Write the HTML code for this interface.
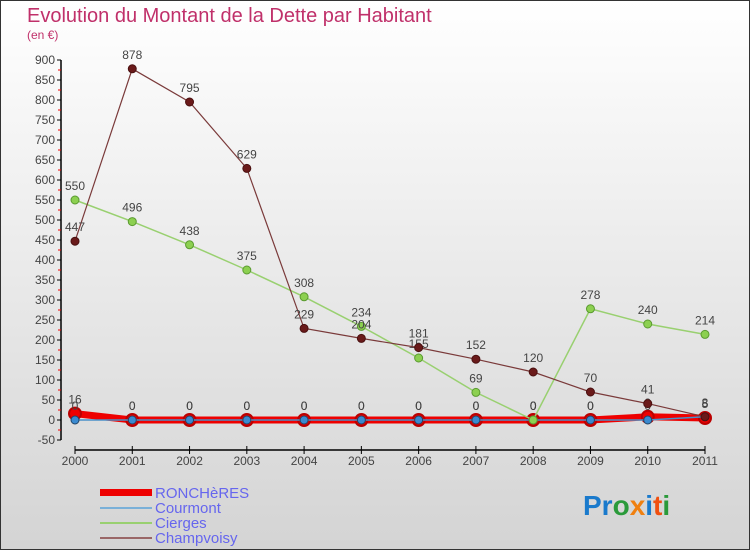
<!DOCTYPE html>
<html><head><meta charset="utf-8"><style>
body{margin:0;}
#wrap{width:750px;height:550px;position:relative;box-sizing:border-box;border:1px solid #333;background:linear-gradient(#ffffff,#d4d4d4);font-family:"Liberation Sans",sans-serif;overflow:hidden}
</style></head><body>
<div id="wrap">
<svg id="c" width="750" height="550" style="position:absolute;left:-1px;top:-1px">
<text x="27" y="22" font-size="20" fill="#c0306a">Evolution du Montant de la Dette par Habitant</text>
<text x="27" y="39" font-size="12" fill="#c0306a">(en €)</text>
<g id="axes"></g><g id="series"></g>
<g>
<rect x="100" y="489" width="52" height="7" fill="#e00"/>
<text x="155" y="498" font-size="15" fill="#6666ee">RONCHèRES</text>
<line x1="100" y1="508" x2="152" y2="508" stroke="#7ab0d8" stroke-width="2"/>
<text x="155" y="513" font-size="15" fill="#6666ee">Courmont</text>
<line x1="100" y1="523" x2="152" y2="523" stroke="#99d070" stroke-width="2"/>
<text x="155" y="528" font-size="15" fill="#6666ee">Cierges</text>
<line x1="100" y1="538" x2="152" y2="538" stroke="#996666" stroke-width="2"/>
<text x="155" y="543" font-size="15" fill="#6666ee">Champvoisy</text>
</g>
<text x="583" y="515" font-size="28" font-weight="bold"><tspan fill="#1a7acc">Pr</tspan><tspan fill="#2a9a3a">o</tspan><tspan fill="#f08010">x</tspan><tspan fill="#1a7acc">i</tspan><tspan fill="#f05010">t</tspan><tspan fill="#2a9a3a">i</tspan></text>
</svg>
</div>
<script>
const years=[2000,2001,2002,2003,2004,2005,2006,2007,2008,2009,2010,2011];
const yTicks=[-50,0,50,100,150,200,250,300,350,400,450,500,550,600,650,700,750,800,850,900];
const roncheres=[16,0,0,0,0,0,0,0,0,0,8,5];
const courmont=[0,0,0,0,0,0,0,0,0,0,0,8];
const cierges=[550,496,438,375,308,234,155,69,0,278,240,214];
const champvoisy=[447,878,795,629,229,204,181,152,120,70,41,8];
const NS="http://www.w3.org/2000/svg";
const xS=i=>75+i*(630/11);
const yS=v=>420-v*0.4;
function mk(p,t,a){const e=document.createElementNS(NS,t);for(const k in a)e.setAttribute(k,a[k]);p.appendChild(e);return e;}
const ax=document.getElementById('axes');
let l=mk(ax,'line',{x1:61,y1:60,x2:61,y2:440,stroke:'#000','stroke-width':1.5});


yTicks.forEach(v=>{
 const y=yS(v);
 mk(ax,'line',{x1:57,y1:y,x2:61,y2:y,stroke:'#000'});
 if(v<900) mk(ax,'line',{x1:58,y1:y-10,x2:61,y2:y-10,stroke:'#e00'});
 const t=mk(ax,'text',{x:55,y:y+4,'font-size':12,fill:'#444','text-anchor':'end'});
 t.textContent=v;
 
 
});
l=mk(ax,'line',{x1:75,y1:450,x2:705,y2:450,stroke:'#000','stroke-width':1.5});


years.forEach((yr,i)=>{
 const x=xS(i);
 mk(ax,'line',{x1:x,y1:446,x2:x,y2:454,stroke:'#000'});
 const t=mk(ax,'text',{x:x,y:465,'font-size':12,fill:'#444','text-anchor':'middle'});
 t.textContent=yr;
 
 
});
const sg=document.getElementById('series');
function series(name,data,color,w,r,fill,stroke,sw){
 const g=mk(sg,'g',{});
 
 
 const pl=mk(g,'polyline',{points:data.map((v,i)=>xS(i)+','+yS(v)).join(' '),fill:'none',stroke:color,'stroke-width':w});
 
 
 data.forEach((v,i)=>{
  const c=mk(g,'circle',{cx:xS(i),cy:yS(v),r:r,fill:fill,stroke:stroke,'stroke-width':sw});
  
  
  const t=mk(g,'text',{x:xS(i),y:yS(v)-10,'font-size':12,fill:'#444','text-anchor':'middle'});
  t.textContent=v;
  
  
 });
}
series('roncheres',roncheres,'#e00',7,6,'#e00','#b00',2);
series('courmont',courmont,'#4a90c8',1.5,4,'#3a8ad0','#246',1);
series('cierges',cierges,'#99d070',1.5,4,'#8cd050','#5a9a30',1);
series('champvoisy',champvoisy,'#7a3a3a',1.2,4,'#6a1a1a','#4a1010',1);
</script>
</body></html>
